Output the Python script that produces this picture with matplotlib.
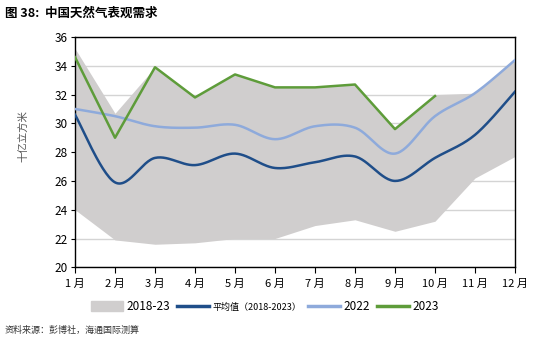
import numpy as np
import matplotlib.pyplot as plt
from matplotlib.patches import Patch
from matplotlib.lines import Line2D

plt.rcParams['font.family'] = ['Noto Sans CJK SC', 'DejaVu Sans']

months = ['1 月', '2 月', '3 月', '4 月', '5 月', '6 月',
          '7 月', '8 月', '9 月', '10 月', '11 月', '12 月']

# range of monthly apparent demand 2018-23 (bcm)
band_high = [35.2, 30.7, 33.9, 31.8, 33.4, 32.5, 32.5, 32.7, 29.7, 32.0, 32.1, 34.4]
band_low = [24.0, 21.9, 21.6, 21.7, 22.0, 22.0, 22.9, 23.3, 22.5, 23.2, 26.2, 27.7]

avg_2018_2023 = [30.6, 25.9, 27.6, 27.1, 27.9, 26.9, 27.3, 27.7, 26.0, 27.6, 29.2, 32.2]
y2022 = [31.0, 30.5, 29.8, 29.7, 29.9, 28.9, 29.8, 29.7, 27.9, 30.5, 32.1, 34.4]
y2023 = [34.6, 29.0, 33.9, 31.8, 33.4, 32.5, 32.5, 32.7, 29.6, 31.9]


def smooth(x, y, n=30):
    # bezier smoothing through the points, similar to spreadsheet "smoothed line"
    x = np.asarray(x, float)
    y = np.asarray(y, float)
    px = np.concatenate([[x[0]], x, [x[-1]]])
    py = np.concatenate([[y[0]], y, [y[-1]]])
    xs, ys = [], []
    t = np.linspace(0, 1, n)
    for i in range(1, len(x)):
        p0 = np.array([px[i], py[i]])
        p3 = np.array([px[i + 1], py[i + 1]])
        c1 = p0 + (np.array([px[i + 1], py[i + 1]]) - np.array([px[i - 1], py[i - 1]])) / 6
        c2 = p3 - (np.array([px[i + 2], py[i + 2]]) - np.array([px[i], py[i]])) / 6
        b = ((1 - t) ** 3)[:, None] * p0 + (3 * (1 - t) ** 2 * t)[:, None] * c1 \
            + (3 * (1 - t) * t ** 2)[:, None] * c2 + (t ** 3)[:, None] * p3
        xs.extend(b[:, 0])
        ys.extend(b[:, 1])
    return np.array(xs), np.array(ys)


c_band = '#d0cece'
c_avg = '#1f4e89'
c_2022 = '#8eaadb'
c_2023 = '#5e9c3a'

fig = plt.figure(figsize=(5.46, 3.44), dpi=100)
ax = fig.add_axes([0.1374, 0.223, 0.8058, 0.6694])

x = np.arange(len(months))
ax.fill_between(x, band_low, band_high, color=c_band, lw=0, zorder=1)

sx, sy = smooth(x, avg_2018_2023)
ax.plot(sx, sy, color=c_avg, lw=1.8, zorder=3)
sx, sy = smooth(x, y2022)
ax.plot(sx, sy, color=c_2022, lw=1.8, zorder=3)
ax.plot(x[:len(y2023)], y2023, color=c_2023, lw=1.8, zorder=4)

ax.set_xlim(0, 11)
ax.set_ylim(20, 36)
ax.set_yticks(range(20, 37, 2))
ax.set_xticks(x)
ax.set_xticklabels(months, fontsize=8)
ax.tick_params(axis='y', labelsize=8.5, length=3, width=0.8, pad=2)
ax.tick_params(axis='x', length=4, width=0.8, pad=4)
ax.yaxis.grid(True, color='#d4d4d4', lw=1, zorder=0)
ax.set_axisbelow(True)
for s in ax.spines.values():
    s.set_color('black')
    s.set_linewidth(1)

fig.text(0.042, 0.605, '十亿立方米', rotation=90, fontsize=7.5, color='#555555',
         ha='center', va='center')

fig.text(0.009, 0.962, '图 38:  中国天然气表观需求', fontsize=9, fontweight='bold',
         ha='left', va='center')
fig.text(0.009, 0.04, '资料来源：彭博社，海通国际测算', fontsize=6.5, color='#333333',
         ha='left', va='center')

handles = [Patch(color=c_band),
           Line2D([], [], color=c_avg, lw=2.5),
           Line2D([], [], color=c_2022, lw=2.5),
           Line2D([], [], color=c_2023, lw=2.5)]
leg = fig.legend(handles, ['2018-23', '平均值（2018-2023）', '2022', '2023'],
                 loc='center', bbox_to_anchor=(0.485, 0.108), ncol=4, frameon=False,
                 fontsize=8.5, handlelength=2.7, handleheight=0.9, handletextpad=0.3,
                 columnspacing=0.6)
leg.get_texts()[1].set_fontsize(6.5)

fig.savefig('out.png', dpi=100)
